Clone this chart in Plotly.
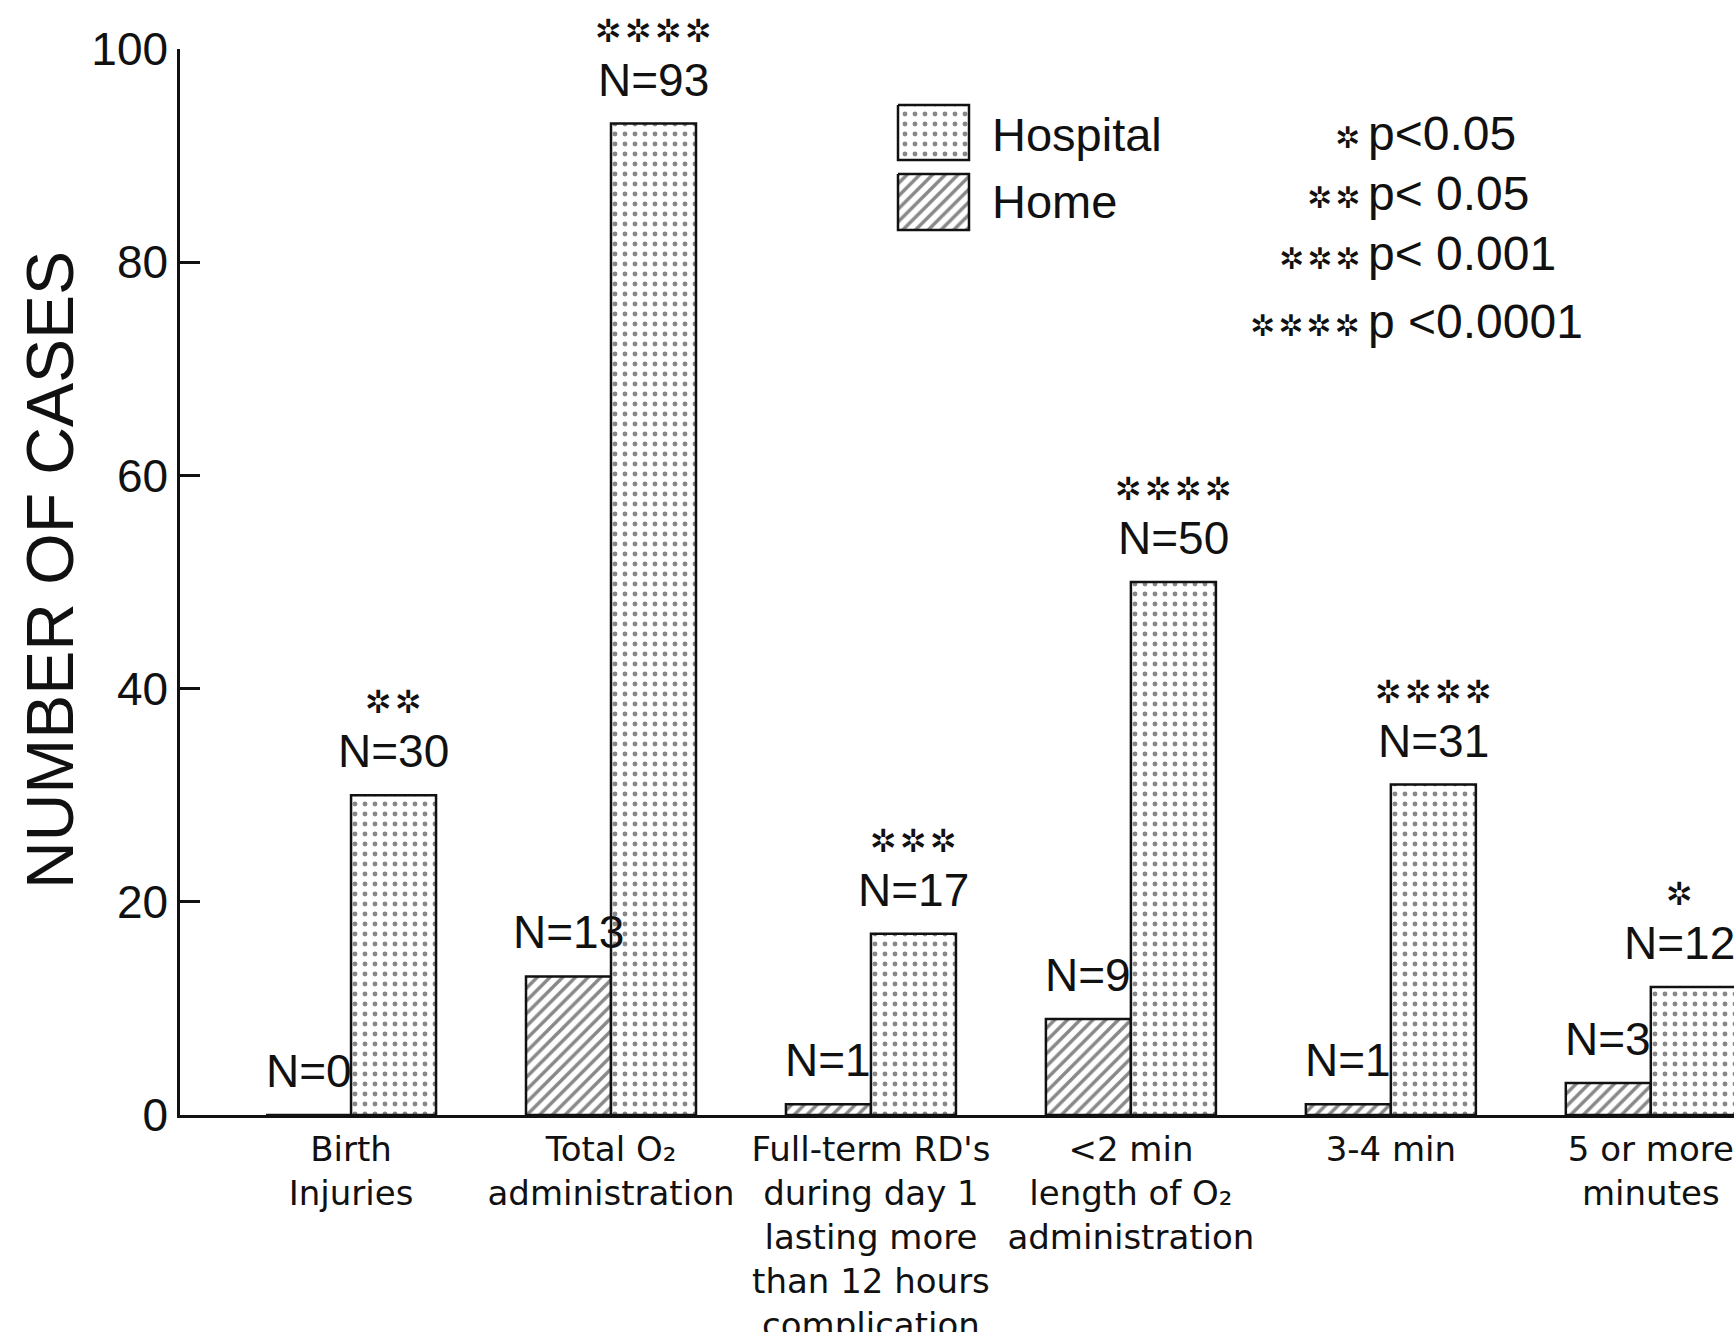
import plotly.graph_objects as go

# ---- data -------------------------------------------------------------
categories = [
    "Birth<br>Injuries",
    "Total O₂<br>administration",
    "Full-term RD's<br>during day 1<br>lasting more<br>than 12 hours<br>complication",
    "&lt;2 min<br>length of O₂<br>administration",
    "3-4 min",
    "5 or more<br>minutes",
]
home_cases = [0, 13, 1, 9, 1, 3]
hospital_cases = [30, 93, 17, 50, 31, 12]
hospital_stars = ["✲✲", "✲✲✲✲", "✲✲✲", "✲✲✲✲", "✲✲✲✲", "✲"]
y_ticks = [0, 20, 40, 60, 80, 100]
significance_keys = [("✲", "p&lt;0.05"), ("✲✲", "p&lt; 0.05"),
                     ("✲✲✲", "p&lt; 0.001"), ("✲✲✲✲", "p &lt;0.0001")]

# ---- geometry ---------------------------------------------------------
W, H = 1734, 1332
L, R, T, B = 180, 0, 49, 217
BARGAP = 0.346
half_w = (1 - BARGAP) / 2          # width of one bar in category units
x_idx = list(range(len(categories)))

INK = "#111111"
LABEL_FONT = "Liberation Sans, Arial, sans-serif"
CAT_FONT = "DejaVu Sans, sans-serif"


def px_x(px):
    return (px - L) / (W - L - R)


def px_y(py):
    return (H - B - py) / (H - T - B)


hospital_pattern = dict(shape=".", fgcolor=INK, bgcolor="white", size=10, solidity=0.19)
home_pattern = dict(shape="/", fgcolor=INK, bgcolor="white", size=9, solidity=0.38)

fig = go.Figure()

fig.add_trace(go.Bar(
    x=x_idx, y=home_cases, name="Home",
    marker=dict(color="white", pattern=home_pattern, line=dict(color=INK, width=2.5)),
    showlegend=False,
))
fig.add_trace(go.Bar(
    x=x_idx, y=hospital_cases, name="Hospital",
    marker=dict(color="white", pattern=hospital_pattern, line=dict(color=INK, width=2.5)),
    showlegend=False,
))

annotations = []

# value labels above each bar, with significance marks over the hospital bars
last = x_idx[-1]
for i in x_idx:
    edge_shift = -14 if i == last else 0
    annotations.append(dict(
        x=i - half_w / 2, y=home_cases[i], xref="x", yref="y",
        text=f"N={home_cases[i]}", showarrow=False,
        xanchor="center", yanchor="bottom", yshift=16,
        font=dict(family=LABEL_FONT, size=46, color=INK),
    ))
    annotations.append(dict(
        x=i + half_w / 2, y=hospital_cases[i], xref="x", yref="y",
        text=f"N={hospital_cases[i]}", showarrow=False,
        xanchor="center", yanchor="bottom", yshift=16, xshift=edge_shift,
        font=dict(family=LABEL_FONT, size=46, color=INK),
    ))
    annotations.append(dict(
        x=i + half_w / 2, y=hospital_cases[i], xref="x", yref="y",
        text="\u200a".join(hospital_stars[i]), showarrow=False,
        xanchor="center", yanchor="bottom", yshift=72, xshift=edge_shift,
        font=dict(family=CAT_FONT, size=32, color=INK),
    ))

# y-axis title
annotations.append(dict(
    x=px_x(50), y=px_y(570), xref="paper", yref="paper",
    xanchor="center", yanchor="middle",
    text="NUMBER OF CASES", textangle=-90, showarrow=False,
    font=dict(family=LABEL_FONT, size=66, color=INK),
))

# legend: patterned swatches drawn on an overlay axis in page pixels
swatches = [("Hospital", hospital_pattern, 105, 160, 134),
            ("Home", home_pattern, 174, 230, 201)]
for name, pat, top, bot, mid in swatches:
    fig.add_trace(go.Scatter(
        x=[898, 969, 969, 898, 898], y=[top, top, bot, bot, top],
        xaxis="x2", yaxis="y2", mode="lines", fill="toself",
        fillcolor="white", fillpattern=pat,
        line=dict(color=INK, width=2.5), showlegend=False, hoverinfo="skip",
    ))
    annotations.append(dict(
        x=px_x(990), y=px_y(mid), xref="paper", yref="paper",
        xanchor="left", yanchor="middle",
        text=name, showarrow=False,
        font=dict(family=LABEL_FONT, size=47, color=INK),
    ))

# significance key
key_rows_y = [133, 194, 254, 321]
for (stars, txt), yc in zip(significance_keys, key_rows_y):
    annotations.append(dict(
        x=px_x(1362), y=px_y(yc + 4), xref="paper", yref="paper",
        xanchor="right", yanchor="middle",
        text="\u200a".join(stars), showarrow=False,
        font=dict(family=CAT_FONT, size=30, color=INK),
    ))
    annotations.append(dict(
        x=px_x(1366), y=px_y(yc), xref="paper", yref="paper",
        xanchor="left", yanchor="middle",
        text=txt, showarrow=False,
        font=dict(family=LABEL_FONT, size=48, color=INK),
    ))

fig.update_layout(
    width=W, height=H,
    margin=dict(l=L, r=R, t=T, b=B, pad=0),
    paper_bgcolor="white", plot_bgcolor="white",
    barmode="group", bargap=BARGAP, bargroupgap=0,
    annotations=annotations,
    xaxis=dict(
        range=[-0.658, 5.32], automargin=False,
        tickmode="array", tickvals=x_idx, ticktext=categories,
        ticks="", showgrid=False, zeroline=False,
        showline=True, linecolor=INK, linewidth=2.5,
        tickfont=dict(family=CAT_FONT, size=34, color=INK),
        ticklabelstandoff=2,
    ),
    yaxis=dict(
        range=[0, 100], automargin=False, tickmode="array", tickvals=y_ticks,
        ticks="inside", ticklen=20, tickwidth=2.5, tickcolor=INK,
        showgrid=False, zeroline=False,
        showline=True, linecolor=INK, linewidth=2.5,
        tickfont=dict(family=LABEL_FONT, size=46, color=INK),
        ticklabelstandoff=0,
    ),
    xaxis2=dict(range=[L, W - R], domain=[0, 1], anchor="y2", overlaying="x",
                visible=False, fixedrange=True),
    yaxis2=dict(range=[H - B, T], domain=[0, 1], anchor="x2", overlaying="y",
                visible=False, fixedrange=True),
    showlegend=False,
)

fig.write_html("out.html")
